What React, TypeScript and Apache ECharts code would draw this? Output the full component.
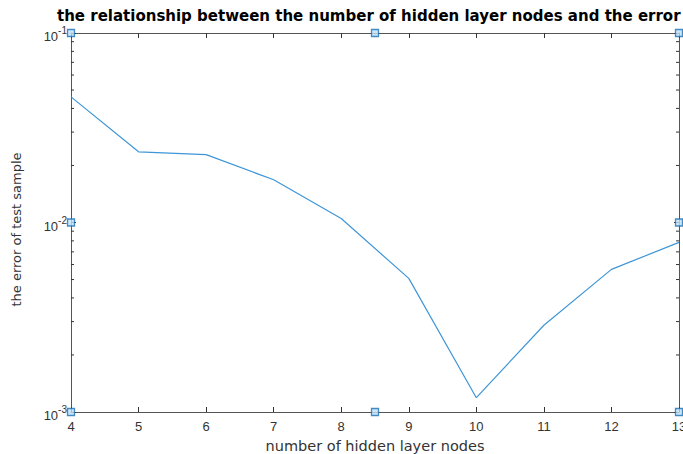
import React, { useEffect, useRef } from "react";
import * as echarts from "echarts";

const nodes = [4, 5, 6, 7, 8, 9, 10, 11, 12, 13];
const errors = [0.046, 0.0236, 0.0228, 0.0168, 0.0105, 0.00507, 0.00119, 0.00287, 0.00566, 0.00785];
const minorTicks = [
  0.002, 0.003, 0.004, 0.005, 0.006, 0.007, 0.008, 0.009,
  0.02, 0.03, 0.04, 0.05, 0.06, 0.07, 0.08, 0.09,
];
const handleXs = [4, 8.5, 13];
const handleYs = [0.001, 0.01, 0.1];
const titleText = "the relationship between the number of hidden layer nodes and the error";
const xName = "number of hidden layer nodes";
const yName = "the error of test sample";

const AXIS = "#555555";
const TICK = "#333333";
const TXT = "#333333";

export default function App() {
  const ref = useRef<HTMLDivElement>(null);
  useEffect(() => {
    if (!ref.current) return;
    const chart = echarts.init(ref.current, undefined, { renderer: "svg" });
    const handles: number[][] = [];
    handleYs.forEach((y) =>
      handleXs.forEach((x) => {
        if (y === 0.01 && x === 8.5) return;
        handles.push([x, y]);
      })
    );
    const xMin = nodes[0];
    const xMax = nodes[nodes.length - 1];
    const tick = { show: true, inside: true, length: 5, lineStyle: { color: TICK, width: 1 } };
    chart.setOption({
      animation: false,
      backgroundColor: "#ffffff",
      title: {
        text: titleText,
        left: 57,
        top: 8,
        padding: 0,
        textStyle: { fontFamily: "DejaVu Sans", fontWeight: "bold", fontSize: 15, color: "#000" },
      },
      grid: { left: 71, right: 4, top: 33, bottom: 42, containLabel: false, outerBoundsMode: "none" },
      xAxis: [
        {
          type: "value",
          min: xMin,
          max: xMax,
          interval: 1,
          name: xName,
          nameLocation: "middle",
          nameGap: 26,
          nameTextStyle: { fontFamily: "DejaVu Sans", fontSize: 14.5, color: TXT },
          axisLine: { show: true, lineStyle: { color: AXIS, width: 1 } },
          axisTick: tick,
          axisLabel: { fontFamily: "Liberation Sans", fontSize: 13, color: TXT, margin: 8 },
          splitLine: { show: false },
        },
        {
          type: "value",
          position: "top",
          min: xMin,
          max: xMax,
          interval: 1,
          axisLine: { show: true, onZero: false, lineStyle: { color: AXIS, width: 1 } },
          axisTick: tick,
          axisLabel: { show: false },
          splitLine: { show: false },
        },
      ],
      yAxis: [
        {
          type: "log",
          logBase: 10,
          min: 0.001,
          max: 0.1,
          name: yName,
          nameLocation: "middle",
          nameGap: 48,
          nameTextStyle: { fontFamily: "DejaVu Sans", fontSize: 13, color: TXT, padding: [0, 14, 0, 0] },
          axisLine: { show: true, lineStyle: { color: AXIS, width: 1 } },
          axisTick: tick,
          axisLabel: {
            margin: 4,
            formatter: (v: number) => `{b|10}{s|${Math.round(Math.log10(v))}}`,
            rich: {
              b: { fontFamily: "Liberation Sans", fontSize: 13, color: TXT, padding: [7, 0, 0, 0] },
              s: { fontFamily: "Liberation Sans", fontSize: 10, color: TXT, padding: [0, 0, 5, 0] },
            },
          },
          splitLine: { show: false },
        },
        {
          type: "log",
          logBase: 10,
          position: "right",
          min: 0.001,
          max: 0.1,
          axisLine: { show: true, onZero: false, lineStyle: { color: AXIS, width: 1 } },
          axisTick: tick,
          axisLabel: { show: false },
          splitLine: { show: false },
        },
      ],
      series: [
        {
          type: "custom",
          xAxisIndex: 0,
          yAxisIndex: 0,
          silent: true,
          clip: false,
          data: minorTicks.map((v) => [xMin, v]),
          renderItem: (_params: any, api: any) => {
            const v = api.value(1);
            const l = api.coord([xMin, v]);
            const r = api.coord([xMax, v]);
            const st = { stroke: TICK, lineWidth: 1 };
            return {
              type: "group",
              children: [
                { type: "line", shape: { x1: l[0], y1: l[1], x2: l[0] + 3, y2: l[1] }, style: st },
                { type: "line", shape: { x1: r[0], y1: r[1], x2: r[0] - 3, y2: r[1] }, style: st },
              ],
            };
          },
        },
        {
          type: "line",
          data: nodes.map((x, i) => [x, errors[i]]),
          showSymbol: false,
          symbol: "none",
          lineStyle: { color: "#3f96d6", width: 1.2 },
          z: 3,
        },
        {
          type: "scatter",
          data: handles,
          symbol: "rect",
          symbolSize: 7,
          clip: false,
          silent: true,
          itemStyle: { color: "#bfe0f7", borderColor: "#1b6fb3", borderWidth: 1.3 },
          z: 5,
        },
      ],
    });
    return () => chart.dispose();
  }, []);
  return (
    <div
      ref={ref}
      style={{ position: "absolute", left: 0, top: 0, width: 683, height: 454 }}
    />
  );
}
